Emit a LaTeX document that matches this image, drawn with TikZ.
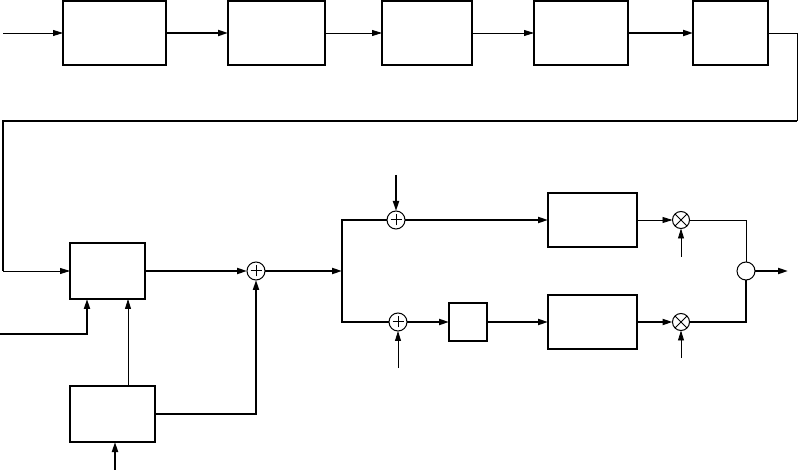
\documentclass[tikz,border=0pt]{standalone}
\usetikzlibrary{arrows.meta}

\begin{document}
\begin{tikzpicture}[x=1pt, y=-1pt,
  blk/.style={draw, line width=1.1pt, inner sep=0pt, outer sep=0pt},
  thinwire/.style={line width=0.8pt},
  thickwire/.style={line width=1.7pt},
  tip/.style={-{Triangle[length=10pt,width=6pt]}},
  sum/.style={draw, circle, line width=1pt, minimum size=18pt, inner sep=0pt, outer sep=0pt,
    path picture={
      \draw[line width=1pt] ([yshift=-5.5pt]path picture bounding box.center) -- ([yshift=5.5pt]path picture bounding box.center);
      \draw[line width=1pt] ([xshift=-5.5pt]path picture bounding box.center) -- ([xshift=5.5pt]path picture bounding box.center);}},
  mult/.style={draw, circle, line width=1pt, minimum size=17pt, inner sep=0pt, outer sep=0pt,
    path picture={
      \draw[line width=1pt] (path picture bounding box.north west) -- (path picture bounding box.south east);
      \draw[line width=1pt] (path picture bounding box.south west) -- (path picture bounding box.north east);}},
  joint/.style={draw, circle, line width=1pt, minimum size=18pt, inner sep=0pt, outer sep=0pt}]
  \useasboundingbox (0,0) rectangle (798,470);

  % top row
  \node[blk, minimum width=103pt, minimum height=64pt] (b1) at (114.5,33) {};
  \node[blk, minimum width=97pt,  minimum height=64pt] (b2) at (276.5,33) {};
  \node[blk, minimum width=90pt,  minimum height=64pt] (b3) at (427,33) {};
  \node[blk, minimum width=94pt,  minimum height=64pt] (b4) at (581,33) {};
  \node[blk, minimum width=75pt,  minimum height=64pt] (b5) at (730.5,33) {};
  \coordinate (in1) at (3,33);
  \draw[thinwire, tip] (in1) -- (b1);
  \foreach \a/\b in {b1/b2, b4/b5} { \draw[thickwire, tip] (\a) -- (\b); }
  \foreach \a/\b in {b2/b3, b3/b4} { \draw[thinwire, tip] (\a) -- (\b); }

  % left part
  \node[blk, minimum width=75pt, minimum height=56pt] (b6) at (107.5,271) {};
  \node[blk, minimum width=85pt, minimum height=56pt] (b7) at (112.5,414) {};
  \node[sum] (s1) at (256,271) {};
  \coordinate (c1) at (797,121);
  \coordinate (c2) at (3,121);
  \draw[thinwire] (b5.east) -| (c1);
  \draw[thickwire] (c1) -- (c2) -- (c2 |- b6.west);
  \draw[thinwire, tip] (c2 |- b6.west) -- (b6.west);
  \coordinate (in2) at (0,334);
  \draw[thickwire, tip] (in2) -| ([xshift=-20.5pt]b6.south);
  \draw[thinwire, tip] ([xshift=15.5pt]b7.north) -- ([xshift=20.5pt]b6.south);
  \coordinate (in3) at (115,470);
  \draw[thickwire, tip] (in3) -- (in3 |- b7.south);
  \draw[thickwire, tip] (b6.east) -- (s1.west);
  \draw[thickwire, tip] (b7.east) -| (s1.south);

  % two branches
  \coordinate (split) at (342,271);
  \draw[thickwire, tip] (s1.east) -- (split);
  \node[sum] (s2) at (396,220) {};
  \node[sum] (s3) at (398,322) {};
  \draw[thickwire] (s2.west) -| (split) |- (s3.west);
  \node[blk, minimum width=89pt, minimum height=54pt] (b8) at (592.5,220) {};
  \node[blk, minimum width=38pt, minimum height=38pt] (b9) at (468,322) {};
  \node[blk, minimum width=89pt, minimum height=54pt] (b10) at (592.5,322) {};
  \node[mult] (m1) at (681,220) {};
  \node[mult] (m2) at (681,322) {};
  \node[joint] (o) at (746,271) {};
  \coordinate (in4) at (396,175);
  \coordinate (in5) at (398,368);
  \coordinate (in6) at (681,257);
  \coordinate (in7) at (681,358);
  \coordinate (out) at (788,271);
  \draw[thickwire, tip] (in4) -- (s2.north);
  \draw[thinwire, tip] (in5) -- (s3.south);
  \draw[thinwire, tip] (in6) -- (m1.south);
  \draw[thinwire, tip] (in7) -- (m2.south);
  \draw[thickwire, tip] (s2.east) -- (b8.west);
  \draw[thickwire, tip] (s3.east) -- (b9.west);
  \draw[thickwire, tip] (b9.east) -- (b10.west);
  \draw[thinwire, tip] (b8.east) -- (m1.west);
  \draw[thickwire, tip] (b10.east) -- (m2.west);
  \draw[thinwire] (m1.east) -| (o.north);
  \draw[thickwire] (m2.east) -| (o.south);
  \draw[thickwire, tip] (o.east) -- (out);
\end{tikzpicture}
\end{document}
